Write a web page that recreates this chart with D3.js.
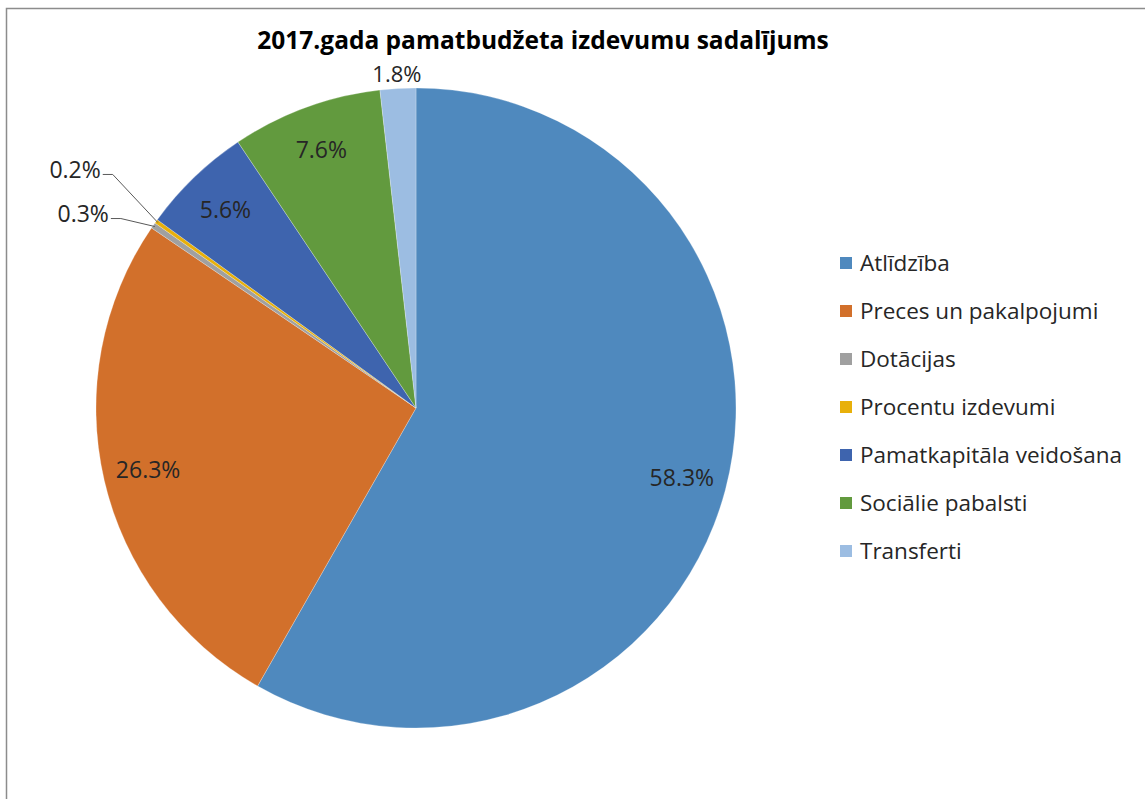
<!DOCTYPE html>
<html>
<head>
<meta charset="utf-8">
<script src="https://cdn.jsdelivr.net/npm/d3@7"></script>
<style>
  body { margin: 0; background: #fff; }
  text { font-family: "Open Sans", sans-serif; fill: #262626; }
</style>
</head>
<body>
<div class="chart"></div>
<script>
var titleText = "2017.gada pamatbudžeta izdevumu sadalījums";
var categories = ["Atlīdzība", "Preces un pakalpojumi", "Dotācijas", "Procentu izdevumi",
                  "Pamatkapitāla veidošana", "Sociālie pabalsti", "Transferti"];
var values = [58.3, 26.3, 0.3, 0.2, 5.6, 7.6, 1.8];
var colors = ["#4f89be", "#d2702b", "#a0a0a0", "#e8b00a", "#3e64ae", "#629a3e", "#9cbde2"];

var width = 1145, height = 799,
    cx = 416, cy = 408, radius = 320;

var svg = d3.select(".chart").append("svg")
  .attr("width", width)
  .attr("height", height);

// frame (only left and top edges fall inside the picture)
svg.append("rect")
  .attr("x", 6.5).attr("y", 8.5)
  .attr("width", width + 10).attr("height", height + 10)
  .attr("fill", "none")
  .attr("stroke", "#8c8c8c")
  .attr("stroke-width", 1.5);

svg.append("text")
  .attr("x", 543)
  .attr("y", 49)
  .attr("text-anchor", "middle")
  .style("font-weight", "bold")
  .style("font-size", "24.5px")
  .style("fill", "#000")
  .text(titleText);

var pie = d3.pie().sort(null).value(function(d) { return d; });
var arcs = pie(values);

var arc = d3.arc().innerRadius(0).outerRadius(radius);
var labelArc = d3.arc().innerRadius(230).outerRadius(320);
var outerArc = d3.arc().innerRadius(338).outerRadius(338);
var edgeArc = d3.arc().innerRadius(318).outerRadius(318);

var g = svg.append("g").attr("transform", "translate(" + cx + "," + cy + ")");

g.selectAll("path")
  .data(arcs)
  .enter().append("path")
    .attr("d", arc)
    .attr("fill", function(d, i) { return colors[i]; })
    .attr("stroke", "#fff")
    .attr("stroke-opacity", 0.5)
    .attr("stroke-width", 0.5);

var fmt = function(v) { return v.toFixed(1) + "%"; };

// inside labels
g.selectAll(".inlabel")
  .data(arcs.filter(function(d) { return d.data >= 3; }))
  .enter().append("text")
    .attr("class", "inlabel")
    .attr("transform", function(d) { return "translate(" + labelArc.centroid(d) + ")"; })
    .attr("text-anchor", "middle")
    .attr("dy", "0.35em")
    .style("font-size", "23px")
    .text(function(d) { return fmt(d.data); });

// outside label without leader
g.selectAll(".outlabel")
  .data(arcs.filter(function(d) { return d.data >= 1 && d.data < 3; }))
  .enter().append("text")
    .attr("class", "outlabel")
    .attr("transform", function(d) { return "translate(" + outerArc.centroid(d) + ")"; })
    .attr("text-anchor", "middle")
    .attr("dy", "0.5em")
    .style("font-size", "22px")
    .text(function(d) { return fmt(d.data); });

// tiny slices: labels with leader lines (elbow offset from slice edge)
var leaderOffset = { 2: [-34, -8], 3: [-45, -48] };
var tiny = arcs.filter(function(d) { return d.data < 1; });

tiny.forEach(function(d) {
  var p = edgeArc.centroid(d);
  var off = leaderOffset[d.index];
  var elbow = [p[0] + off[0], p[1] + off[1]];
  var end = [elbow[0] - 10, elbow[1]];
  g.append("polyline")
    .attr("points", [p, elbow, end].map(function(q) { return q.join(","); }).join(" "))
    .attr("fill", "none")
    .attr("stroke", "#595959")
    .attr("stroke-width", 1);
  g.append("text")
    .attr("x", end[0] - 2)
    .attr("y", end[1] - 5)
    .attr("text-anchor", "end")
    .attr("dy", "0.35em")
    .style("font-size", "23px")
    .text(fmt(d.data));
});

// legend
var legend = svg.selectAll(".legend")
  .data(categories)
  .enter().append("g")
    .attr("class", "legend")
    .attr("transform", function(d, i) { return "translate(840," + (263 + i * 48) + ")"; });

legend.append("rect")
  .attr("x", 0)
  .attr("y", -6)
  .attr("width", 12)
  .attr("height", 12)
  .attr("fill", function(d, i) { return colors[i]; });

legend.append("text")
  .attr("x", 20)
  .attr("dy", "0.35em")
  .style("font-size", "22.5px")
  .text(function(d) { return d; });
</script>
</body>
</html>
